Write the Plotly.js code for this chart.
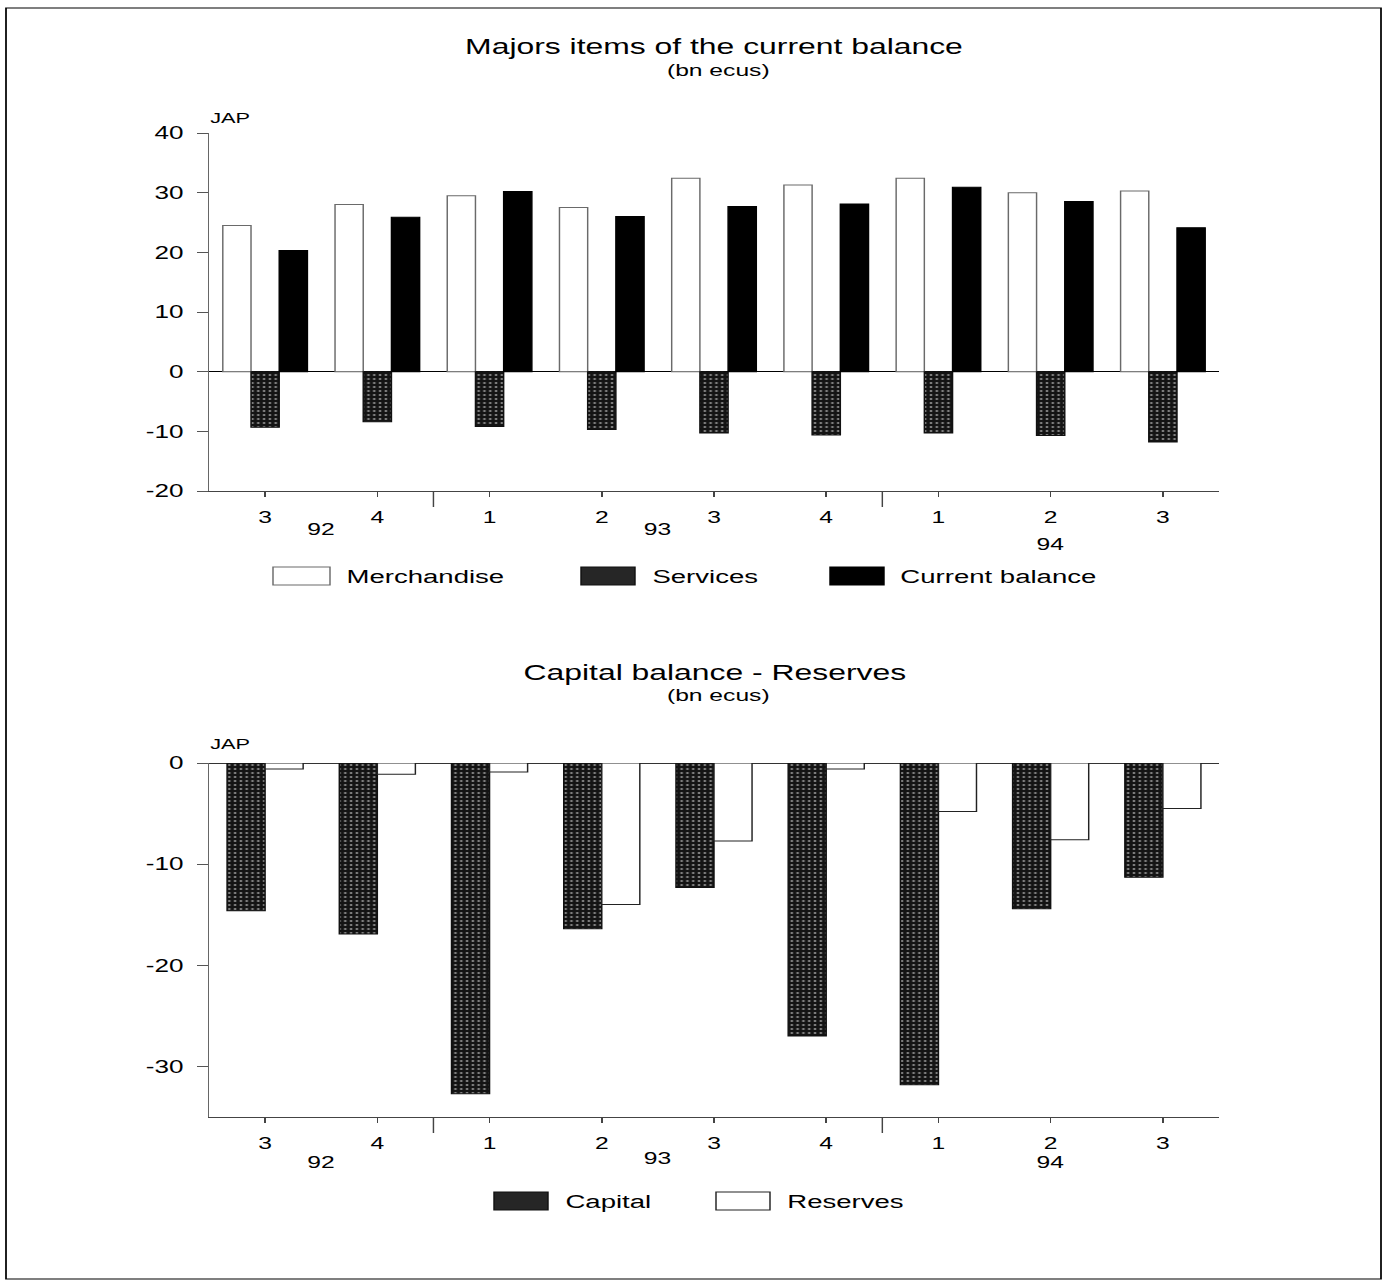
<!DOCTYPE html>
<html>
<head>
<meta charset="utf-8">
<script src="https://cdn.plot.ly/plotly-3.0.1.min.js"></script>
<style>
  html, body { margin: 0; padding: 0; background: #fff; }
  #wrap { width: 1386px; height: 1285px; overflow: hidden; position: relative; }
  /* the scanned original is stretched horizontally; render narrower and stretch */
  #plot { width: 956px; height: 1285px; transform: scaleX(1.449791); transform-origin: 0 0; }
</style>
</head>
<body>
<div id="wrap"><div id="plot"></div></div>
<script>
// ---------------- data ----------------
const quarters = ['3', '4', '1', '2', '3', '4', '1', '2', '3'];
const years    = ['92', '92', '93', '93', '93', '93', '94', '94', '94'];

const merchandise    = [24.5, 28.0, 29.5, 27.5, 32.4, 31.3, 32.4, 30.0, 30.3];
const services       = [-9.3, -8.4, -9.2, -9.7, -10.3, -10.6, -10.3, -10.7, -11.8];
const currentBalance = [20.3, 25.9, 30.2, 26.0, 27.7, 28.1, 30.9, 28.5, 24.1];

const capital  = [-14.6, -16.9, -32.7, -16.4, -12.3, -27.0, -31.8, -14.4, -11.3];
const reserves = [-0.6, -1.1, -0.9, -14.0, -7.7, -0.6, -4.8, -7.6, -4.5];

const topTicks    = [-20, -10, 0, 10, 20, 30, 40];
const bottomTicks = [-30, -20, -10, 0];

// ---------------- helpers ----------------
const W = 1386, H = 1285;            // target picture size (paper fractions)
const px = v => v / W;
const py = v => 1 - v / H;
const FONT = 'Liberation Sans, Arial, Helvetica, sans-serif';
const idx = quarters.map((_, i) => i);

// year spans derived from the year list
function yearSpans(ys) {
  const spans = [];
  ys.forEach((y, i) => {
    const last = spans[spans.length - 1];
    if (last && last.label === y) last.end = i;
    else spans.push({label: y, start: i, end: i});
  });
  return spans;
}
const spans = yearSpans(years);
const boundaries = spans.slice(0, -1).map(s => s.end + 0.5);

// ---------------- styles ----------------
const whiteBar  = {color: '#ffffff', line: {color: '#6a6a6a', width: 1}};
const grainyBar = {color: '#161616', line: {color: '#111111', width: 1},
  pattern: {shape: '.', fillmode: 'replace', bgcolor: '#141414', fgcolor: '#8a8a8a', size: 4, solidity: 0.2}};
const blackBar  = {color: '#000000', line: {color: '#000000', width: 1}};

// ---------------- traces ----------------
const traces = [
  {type: 'bar', name: 'Merchandise', x: idx, y: merchandise, xaxis: 'x', yaxis: 'y', marker: whiteBar},
  {type: 'bar', name: 'Services', x: idx, y: services, xaxis: 'x', yaxis: 'y', marker: grainyBar},
  {type: 'bar', name: 'Current balance', x: idx, y: currentBalance, xaxis: 'x', yaxis: 'y', marker: blackBar},
  {type: 'bar', name: 'Capital', x: idx, y: capital, xaxis: 'x2', yaxis: 'y2', marker: grainyBar, width: 0.339, offset: -0.339},
  {type: 'bar', name: 'Reserves', x: idx, y: reserves, xaxis: 'x2', yaxis: 'y2',
    marker: {color: '#ffffff', line: {color: '#222222', width: 1}}, width: 0.339, offset: 0}
];

// ---------------- geometry of the two panels (target pixels) ----------------
const plotX = [209, 1219];
const topPanel = {top: 133, bottom: 491};
const botPanel = {top: 763, bottom: 1117};

function xAxis(anchor) {
  return {
    domain: [px(plotX[0]), px(plotX[1])], range: [-0.5, quarters.length - 0.5], anchor: anchor,
    tickmode: 'array', tickvals: idx, ticktext: quarters,
    ticks: 'outside', ticklen: 5, tickcolor: '#444', tickwidth: 1,
    showline: true, linecolor: '#444', linewidth: 1,
    showgrid: false, zeroline: false, ticklabelstandoff: 6,
    tickfont: {size: 17, color: '#000', family: FONT}
  };
}
function yAxis(anchor, panel, range, ticks, zlColor, zlWidth) {
  return {
    domain: [py(panel.bottom), py(panel.top)], range: range, anchor: anchor,
    tickmode: 'array', tickvals: ticks, ticktext: ticks.map(String),
    ticks: 'outside', ticklen: 7, tickcolor: '#555', tickwidth: 1,
    showline: true, linecolor: '#666', linewidth: 1,
    showgrid: false, zeroline: true, zerolinecolor: zlColor, zerolinewidth: zlWidth,
    ticklabelstandoff: 6,
    tickfont: {size: 18, color: '#000', family: FONT}
  };
}

// ---------------- shapes ----------------
const shapes = [];
// page frame
shapes.push({type: 'rect', xref: 'paper', yref: 'paper', x0: px(6), x1: px(1381), y0: py(1279), y1: py(8),
  line: {color: '#000', width: 1.2}, fillcolor: 'rgba(0,0,0,0)'});
// year separators below each x axis
[['x', 'y domain', topPanel], ['x2', 'y2 domain', botPanel]].forEach(([xr, yr, p]) => {
  boundaries.forEach(b => shapes.push({type: 'line', xref: xr, yref: yr, x0: b, x1: b,
    y0: 0, y1: -16 / (p.bottom - p.top), line: {color: '#444', width: 1}}));
});

// ---------------- annotations ----------------
const annotations = [];
function txt(text, x, y, size, xanchor, extra) {
  annotations.push(Object.assign({text: text, xref: 'paper', yref: 'paper', x: x, y: y,
    xanchor: xanchor || 'center', yanchor: 'middle', showarrow: false,
    font: {size: size, color: '#000', family: FONT}}, extra || {}));
}
txt('(bn ecus)', px(718), py(70), 17);
txt('Capital balance - Reserves', px(715), py(672), 22);
txt('(bn ecus)', px(718), py(695), 17);
txt('JAP', px(208), py(117), 15, 'left');
txt('JAP', px(208), py(743), 15, 'left');

// year labels centred under their quarters
const topYearY = [529, 529, 544];
const botYearY = [1162, 1158, 1162];
spans.forEach((s, k) => {
  const xc = (s.start + s.end) / 2;
  annotations.push({text: s.label, xref: 'x', yref: 'paper', x: xc, y: py(topYearY[k]),
    yanchor: 'middle', showarrow: false, font: {size: 17, color: '#000', family: FONT}});
  annotations.push({text: s.label, xref: 'x2', yref: 'paper', x: xc, y: py(botYearY[k]),
    yanchor: 'middle', showarrow: false, font: {size: 17, color: '#000', family: FONT}});
});

// legends (boxes + labels) built from the traces
function legendItem(trace, boxX0, boxX1, textX, yc) {
  const m = trace.marker;
  shapes.push({type: 'rect', xref: 'paper', yref: 'paper', x0: px(boxX0), x1: px(boxX1),
    y0: py(yc + 9), y1: py(yc - 9), fillcolor: m.pattern ? '#262626' : m.color,
    line: {color: m.line.color, width: 1}});
  txt(trace.name, px(textX), py(yc), 19, 'left');
}
legendItem(traces[0], 273, 330, 343, 576);
legendItem(traces[1], 581, 635, 650, 576);
legendItem(traces[2], 830, 884, 898, 576);
legendItem(traces[3], 494, 548, 563, 1201);
legendItem(traces[4], 716, 770, 785, 1201);

// ---------------- layout ----------------
const layout = {
  width: 956, height: 1285,
  margin: {l: 0, r: 0, t: 0, b: 0},
  paper_bgcolor: '#ffffff', plot_bgcolor: '#ffffff',
  font: {family: FONT, color: '#000', size: 18},
  showlegend: false,
  barmode: 'group', bargap: 0.246, bargroupgap: 0,
  title: {text: 'Majors items of the current balance', font: {size: 22, color: '#000', family: FONT},
    xref: 'paper', x: px(714), xanchor: 'center', yref: 'container', y: py(46), yanchor: 'middle'},
  xaxis: xAxis('y'),
  yaxis: yAxis('x', topPanel, [-20, 40], topTicks, '#000', 1.5),
  xaxis2: xAxis('y2'),
  yaxis2: yAxis('x2', botPanel, [-35, 0], bottomTicks, '#333', 1),
  shapes: shapes,
  annotations: annotations
};

Plotly.newPlot('plot', traces, layout, {displayModeBar: false, staticPlot: true});
</script>
</body>
</html>
